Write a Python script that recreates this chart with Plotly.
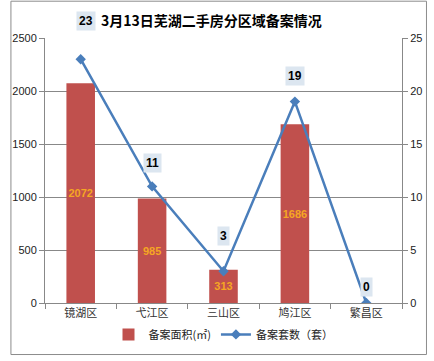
import plotly.graph_objects as go

categories = ["镜湖区", "弋江区", "三山区", "鸠江区", "繁昌区"]
area_values = [2072, 985, 313, 1686, 0]
count_values = [23, 11, 3, 19, 0]
left_ticks = [0, 500, 1000, 1500, 2000, 2500]
right_ticks = [0, 5, 10, 15, 20, 25]

label_shift = [38, 23, 35, 26, 16]
label_xshift = [5, 0, 0, 0, 0]

W, H = 434, 361
ml, mr, mt, mb = 36, 26, 38, 53
pw, ph = W - ml - mr, H - mt - mb

fig = go.Figure()
fig.add_trace(go.Bar(
    x=categories, y=area_values, name="备案面积(㎡)",
    marker=dict(color="#C0504D", line=dict(width=0)),
    width=0.4,
    text=[str(v) if v else "" for v in area_values],
    textposition="inside", insidetextanchor="middle",
    textangle=0, constraintext="none",
    textfont=dict(color="#F5A623", size=11, family="Liberation Sans"),
    texttemplate="<b>%{text}</b>",
    yaxis="y",
))
fig.add_trace(go.Scatter(
    x=categories, y=count_values, name="备案套数（套）",
    mode="lines+markers",
    line=dict(color="#4A7EBB", width=2.5),
    marker=dict(symbol="diamond", size=8, color="#4A7EBB"),
    yaxis="y2",
))

for i, (c, v) in enumerate(zip(categories, count_values)):
    fig.add_annotation(
        x=c, y=v, xref="x", yref="y2",
        text="<b>%d</b>" % v, showarrow=False,
        yshift=label_shift[i], xshift=label_xshift[i],
        bgcolor="#DCE6F0", borderpad=2,
        font=dict(size=12, color="black", family="Liberation Sans"),
    )

fig.add_annotation(
    x=(210 - ml) / pw, y=1 + (38 - 20) / ph, xref="paper", yref="paper",
    text="<b>3月13日芜湖二手房分区域备案情况</b>", showarrow=False,
    font=dict(size=14, color="black", family="Noto Sans CJK SC"),
    xanchor="center", yanchor="middle",
)

# outer border
fig.add_shape(type="rect", xref="paper", yref="paper",
              x0=(0.5 - ml) / pw, x1=(W - 0.5 - ml) / pw,
              y0=-(H - 0.5 - mt - ph) / ph, y1=1 + (mt - 0.5) / ph,
              line=dict(color="#8C8C8C", width=1))

fig.update_layout(
    width=W, height=H,
    margin=dict(l=ml, r=mr, t=mt, b=mb),
    paper_bgcolor="white", plot_bgcolor="white",
    showlegend=True,
    legend=dict(orientation="h", x=0.5, xanchor="center",
                y=-(340 - mt - ph) / ph, yanchor="middle",
                font=dict(size=11, family="Noto Sans CJK SC", color="#222"),
                itemwidth=30),
    xaxis=dict(
        showline=True, linecolor="#888", linewidth=1,
        ticks="outside", tickson="boundaries", ticklen=5, tickcolor="#888",
        tickfont=dict(size=11, family="Noto Sans CJK SC", color="#333"),
    ),
    yaxis=dict(
        range=[0, 2500], tickvals=left_ticks,
        showline=True, linecolor="#888", linewidth=1,
        ticks="outside", ticklen=5, tickcolor="#888",
        showgrid=True, gridcolor="#888", gridwidth=1,
        zeroline=False,
        tickfont=dict(size=11, family="Liberation Sans", color="#222"),
    ),
    yaxis2=dict(
        range=[0, 25], tickvals=right_ticks, overlaying="y", side="right",
        showline=True, linecolor="#888", linewidth=1,
        ticks="outside", ticklen=5, tickcolor="#888",
        showgrid=False, zeroline=False,
        tickfont=dict(size=11, family="Liberation Sans", color="#222"),
    ),
)

fig.write_html("out.html", config={"displayModeBar": False},
               post_script="document.body.style.margin='0px';")
